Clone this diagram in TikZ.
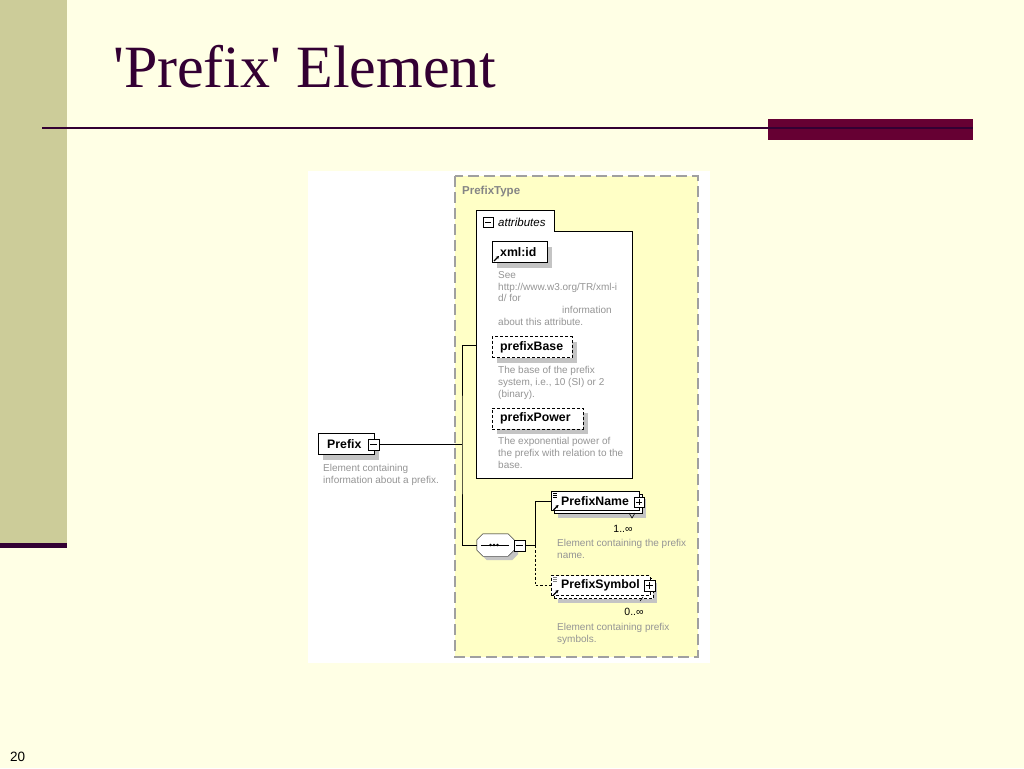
\documentclass[tikz,border=0pt]{standalone}
\usepackage{fontspec}
\setmainfont{Liberation Serif}
\newfontfamily\diafont{Liberation Sans}
\usetikzlibrary{shadows}
\usetikzlibrary{arrows.meta}

\definecolor{pagebg}{HTML}{FFFFE5}
\definecolor{sidebar}{HTML}{CCCC99}
\definecolor{titlecol}{HTML}{330033}
\definecolor{barcol}{HTML}{660033}
\definecolor{typefill}{HTML}{FFFFC6}
\definecolor{typeline}{HTML}{A0A0A0}
\definecolor{typetext}{HTML}{858585}
\definecolor{notegray}{HTML}{959595}
\definecolor{shadowgray}{HTML}{C4C4C4}

\tikzset{
  elembox/.style={draw=black, fill=white, font=\diafont\bfseries\fontsize{12.3}{14}\selectfont,
    inner xsep=8pt, inner ysep=0pt, minimum height=21pt, align=left, anchor=west},
  elem/.style={elembox, drop shadow={shadow xshift=5pt, shadow yshift=-5pt, fill=shadowgray, opacity=1}},
  optelem/.style={elem, dash pattern=on 3pt off 2pt},
  multielem/.style={elembox, inner xsep=10pt, minimum height=19pt,
    drop shadow={shadow xshift=7pt, shadow yshift=-7pt, fill=shadowgray, opacity=1},
    general shadow={shadow xshift=3pt, shadow yshift=-3pt, fill=white, draw=black, #1}},
  note/.style={font=\diafont\fontsize{10}{11.8}\selectfont, text=notegray, align=left,
    anchor=base west, inner sep=0pt},
  card/.style={font=\diafont\fontsize{10.5}{12}\selectfont, anchor=base, inner sep=0pt},
  signbox/.style={draw=black, fill=white, minimum size=10.5pt, inner sep=0pt},
  minus/.style={signbox, path picture={
    \draw ([xshift=2pt]path picture bounding box.west) -- ([xshift=-2pt]path picture bounding box.east);}},
  plus/.style={signbox, path picture={
    \draw ([xshift=2pt]path picture bounding box.west) -- ([xshift=-2pt]path picture bounding box.east);
    \draw ([yshift=-2pt]path picture bounding box.north) -- ([yshift=2pt]path picture bounding box.south);}},
  conn/.style={black, line width=0.9pt},
  reficon/.style={-{Stealth[length=3pt,width=3.2pt]}, line width=1.1pt}
}

\begin{document}
\begin{tikzpicture}[x=1pt, y=-1pt]
  \useasboundingbox (0,0) rectangle (1024,768);
  \fill[pagebg] (0,0) rectangle (1024,768);
  \fill[sidebar] (0,0) rectangle (67,543);
  \fill[titlecol] (0,543) rectangle (67,548);

  % title and rule
  \node[anchor=base west, inner sep=0pt, text=titlecol, font=\fontsize{60}{72}\selectfont] (title) at (113,87) {\textquotesingle Prefix\textquotesingle\ Element};
  \fill[barcol] (768,119) rectangle (973,140);
  \draw[titlecol, line width=2.5pt] (42,128) -- (973,128);
  \node[anchor=base west, inner sep=0pt, font=\diafont\fontsize{13.5}{16}\selectfont] (pagenum) at (10,761.5) {20};

  % diagram
  \fill[white] (308,171) rectangle (710,663);
  \draw[typeline, fill=typefill, line width=1.5pt, dash pattern=on 11pt off 5pt] (455,176) rectangle (698,657);
  \node[anchor=base west, inner sep=0pt, text=typetext, font=\diafont\bfseries\fontsize{11.5}{13}\selectfont] (typename) at (462,194) {PrefixType};

  % attributes
  \node[fill=white, minimum width=155pt, minimum height=246pt, inner sep=0pt] (attrs) at (554.5,355) {};
  \node[fill=white, minimum width=77pt, minimum height=21pt, inner sep=0pt, anchor=south west] (attrtab) at (attrs.north west) {};
  \draw[line width=1.2pt] (attrs.south west) -- (attrtab.north west) -- (attrtab.north east) -- (attrtab.south east)
    -- (attrs.north east) -- (attrs.south east) -- cycle;
  \node[minus] (attrminus) at (488,222) {};
  \node[anchor=base west, inner sep=0pt, font=\diafont\itshape\fontsize{11.5}{13}\selectfont] (attrlabel) at (498,226) {attributes};

  \node[elem, text width=39pt] (xmlid) at (492,252) {xml:id};
  \draw[reficon] (494,261) -- (499,256);
  \node[note] (xmliddoc) at (498,325.5) {See\\http://www.w3.org/TR/xml-i\\d/ for\\\hspace*{64pt}information\\about this attribute.};

  \node[optelem, text width=64pt] (pbase) at (492,347) {prefixBase};
  \node[note] (pbasedoc) at (498,397) {The base of the prefix\\system, i.e., 10 (SI) or 2\\(binary).};

  \node[optelem, text width=75pt] (ppower) at (492,418.5) {prefixPower};
  \node[note] (ppowerdoc) at (498,468) {The exponential power of\\the prefix with relation to the\\base.};

  % the element itself
  \node[elem, inner xsep=9pt, text width=38pt] (prefix) at (318,444) {Prefix};
  \node[minus] (pminus) at (373.5,444.5) {};
  \node[note] (prefixdoc) at (323,483.5) {Element containing\\information about a prefix.};

  % sequence
  \node[minimum width=37pt, minimum height=22pt, inner sep=0pt] (seq) at (495.5,545) {};
  \fill[shadowgray] ([shift={(10pt,-4pt)}]seq.north west) -- ([shift={(-2pt,-4pt)}]seq.north east)
    -- ([shift={(4pt,-10pt)}]seq.north east) -- ([shift={(4pt,2pt)}]seq.south east)
    -- ([shift={(-2pt,-4pt)}]seq.south east) -- ([shift={(10pt,-4pt)}]seq.south west)
    -- ([shift={(4pt,2pt)}]seq.south west) -- ([shift={(4pt,-10pt)}]seq.north west) -- cycle;
  \draw[fill=white] ([xshift=6pt]seq.north west) -- ([xshift=-6pt]seq.north east)
    -- ([yshift=-6pt]seq.north east) -- ([yshift=6pt]seq.south east)
    -- ([xshift=-6pt]seq.south east) -- ([xshift=6pt]seq.south west)
    -- ([yshift=6pt]seq.south west) -- ([yshift=-6pt]seq.north west) -- cycle;
  \draw[line width=0.8pt] ([xshift=4pt]seq.west) -- ([xshift=-5pt]seq.east);
  \foreach \dx in {-5,-1.5,2}
    \fill ([xshift=\dx pt]seq.center) circle (1.3pt);
  \node[minus] (sminus) at (519.5,545.5) {};

  \node[multielem, text width=68pt] (pname) at (551,501) {PrefixName};
  \node[plus] (pnameplus) at (639,502) {};
  \foreach \yy in {493.5,495.5,497.5}
    \draw[line width=0.6pt] (553,\yy) -- (557,\yy);
  \draw[reficon] (553.5,510) -- (558.5,505);
  \draw[line width=0.6pt] (629,513) -- (632,518) -- (635,513);
  \node[card] (pnamecard) at (623,532) {1..∞};
  \node[note] (pnamedoc) at (557,558.5) {Element containing the prefix\\name.};

  \node[multielem={dash pattern=on 3pt off 2pt}, dash pattern=on 3pt off 2pt, minimum height=20pt, text width=79pt] (psym) at (551,585.5) {PrefixSymbol};
  \node[plus] (psymplus) at (649.5,585.5) {};
  \foreach \yy in {577.5,579.5,581.5}
    \draw[gray, line width=0.6pt] (553,\yy) -- (557,\yy);
  \draw[reficon] (553.5,595) -- (558.5,590);
  \draw[line width=0.6pt] (640,601) -- (643,597);
  \node[card] (psymcard) at (634,615) {0..∞};
  \node[note] (psymdoc) at (557,642) {Element containing prefix\\symbols.};

  % connectors
  \coordinate (spine) at (462,444.5);
  \coordinate (attrin) at (477,345);
  \coordinate (split) at (535,545.5);
  \draw[conn] (pminus.east) -- (spine);
  \draw[conn] (attrin) -| (spine) |- (seq.west);
  \draw[conn] (sminus.east) -- (split) |- (pname.west);
  \draw[conn, dash pattern=on 2.5pt off 2pt] (split) |- (psym.west);
\end{tikzpicture}
\end{document}
